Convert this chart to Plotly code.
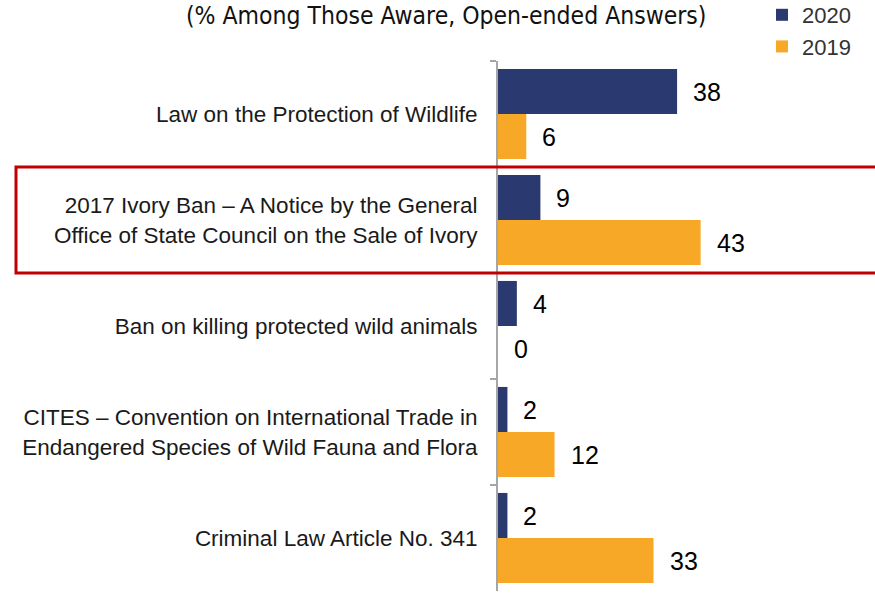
import plotly.graph_objects as go

categories = [
    "Law on the Protection of Wildlife",
    "2017 Ivory Ban – A Notice by the General<br>Office of State Council on the Sale of Ivory",
    "Ban on killing protected wild animals",
    "CITES – Convention on International Trade in<br>Endangered Species of Wild Fauna and Flora",
    "Criminal Law Article No. 341",
]
values_2020 = [38, 9, 4, 2, 2]
values_2019 = [6, 43, 0, 12, 33]
series_names = ["2020", "2019"]
title_text = "(% Among Those Aware, Open-ended Answers)"

NAVY = "#2a3970"
ORANGE = "#f6a826"
W, H = 875, 593
ML, MR, MT, MB = 498, 0, 61, 2
XMAX = 80.0
pw = W - ML - MR
ph = H - MT - MB

fig = go.Figure()
fig.add_trace(go.Bar(y=categories, x=values_2020, name=series_names[0], orientation="h",
                     marker=dict(color=NAVY, line=dict(width=0))))
fig.add_trace(go.Bar(y=categories, x=values_2019, name=series_names[1], orientation="h",
                     marker=dict(color=ORANGE, line=dict(width=0))))

annotations = []
for cat, v in zip(categories, values_2020):
    annotations.append(dict(x=v, y=cat, xref="x", yref="y", text=str(v), showarrow=False,
                            xanchor="left", yanchor="middle", xshift=14, yshift=22.5,
                            font=dict(size=25, color="#000000", family="Liberation Sans")))
for cat, v in zip(categories, values_2019):
    annotations.append(dict(x=v, y=cat, xref="x", yref="y", text=str(v), showarrow=False,
                            xanchor="left", yanchor="middle", xshift=14, yshift=-22.5,
                            font=dict(size=25, color="#000000", family="Liberation Sans")))
annotations.append(dict(x=(446 - ML) / pw, y=1 + (MT - 15) / ph, xref="paper", yref="paper",
                        text=title_text, showarrow=False, xanchor="center", yanchor="middle",
                        font=dict(size=24.5, color="#111111",
                                  family="DejaVu Sans Condensed, Liberation Sans")))

fig.update_layout(
    width=W, height=H,
    margin=dict(l=ML, r=MR, t=MT, b=MB, autoexpand=False),
    paper_bgcolor="white", plot_bgcolor="white",
    barmode="group", bargap=0.15, bargroupgap=0,
    showlegend=True,
    legend=dict(x=(762 - ML) / pw, y=1 + (MT + 6) / ph, xanchor="left", yanchor="top",
                font=dict(size=22, color="#333333", family="Liberation Sans"),
                bgcolor="rgba(0,0,0,0)", tracegroupgap=0, itemwidth=30),
    annotations=annotations,
    shapes=[dict(type="rect", xref="paper", yref="y",
                 x0=(16 - ML) / pw, x1=1.05, y0=0.5, y1=1.5,
                 line=dict(color="#c00000", width=3), layer="above")],
)
fig.update_xaxes(range=[0, XMAX], visible=False, showgrid=False, zeroline=False)
fig.update_yaxes(autorange="reversed", showline=True, linecolor="#a6a6a6", linewidth=2,
                 ticks="outside", tickson="boundaries", ticklen=6, tickcolor="#a6a6a6", tickwidth=2,
                 ticklabelstandoff=14, showgrid=False, zeroline=False,
                 tickfont=dict(size=22.5, color="#1a1a1a", family="Liberation Sans"))

fig.write_html("out.html", config={"displayModeBar": False},
               post_script="document.body.style.margin='0';document.body.style.padding='0';")
